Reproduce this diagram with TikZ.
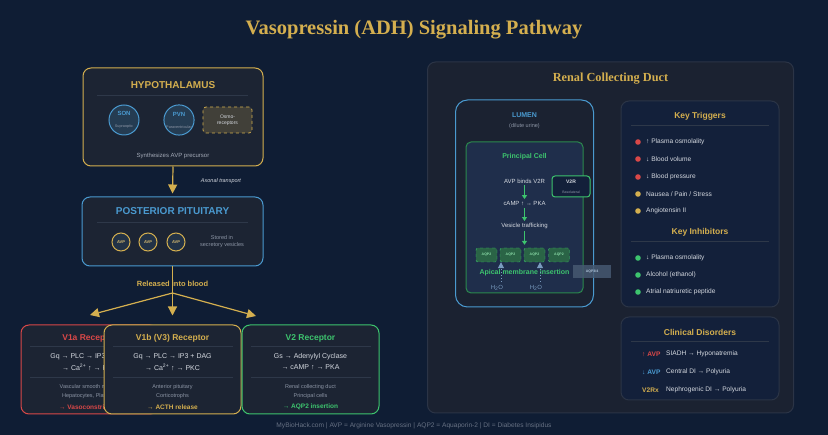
\documentclass[tikz,border=0pt]{standalone}
\usepackage{fontspec}
\setmainfont{Liberation Sans}
\newfontfamily\titleserif{Liberation Serif}
\usetikzlibrary{arrows.meta}
\usetikzlibrary{positioning}

\definecolor{pagebg}{HTML}{0F1D34}
\definecolor{boxbg}{HTML}{1C2433}
\definecolor{gold}{HTML}{D4AF4F}
\definecolor{pitblue}{HTML}{4A9AD0}
\definecolor{alertred}{HTML}{D94848}
\definecolor{okgreen}{HTML}{3DC46E}
\definecolor{textlight}{HTML}{D5D9E0}
\definecolor{textgray}{HTML}{8C95A5}
\definecolor{sepline}{HTML}{2E3849}
\definecolor{navycard}{HTML}{13203A}
\definecolor{cellfill}{HTML}{1F2E4B}
\definecolor{aqpfill}{HTML}{2A6446}
\definecolor{waterblue}{HTML}{7A9CC0}
\definecolor{renalbg}{HTML}{1B2231}
\definecolor{renalline}{HTML}{2B3446}

\tikzstyle{panel} = [rectangle, rounded corners=8pt, fill=boxbg, line width=1pt, inner sep=0pt]
\tikzstyle{headline} = [font=\bfseries\fontsize{10}{12}\selectfont]
\tikzstyle{cardtitle} = [font=\bfseries\fontsize{8.5}{10}\selectfont]
\tikzstyle{body} = [font=\fontsize{7}{8}\selectfont, text=textlight]
\tikzstyle{note} = [font=\fontsize{5.5}{7}\selectfont, text=textgray, align=center]
\tikzstyle{item} = [font=\fontsize{6.6}{8}\selectfont, text=textlight, inner sep=0pt]
\tikzstyle{sep} = [draw=sepline, line width=0.7pt]
\tikzstyle{goldarrow} = [draw=gold, line width=1.2pt, -{Triangle[length=9pt,width=9pt]}]
\tikzstyle{greenarrow} = [draw=okgreen, line width=1pt, -{Triangle[length=4pt,width=5pt]}, shorten <=1pt, shorten >=1pt]
\tikzstyle{waterflow} = [draw=waterblue, dotted, line width=1pt, -{Triangle[length=6pt,width=6pt]}]
\tikzstyle{nucleus} = [circle, draw=pitblue, fill=pitblue!20!boxbg, line width=1pt, minimum size=30pt, inner sep=0pt, align=center]
\tikzstyle{vesicle} = [circle, draw=gold, fill=pitblue!12!boxbg, line width=1pt, minimum size=18pt, inner sep=0pt, font=\bfseries\fontsize{4}{5}\selectfont, text=gold!80!white]
\tikzstyle{aqpbox} = [rectangle, rounded corners=2pt, draw=okgreen, dashed, fill=aqpfill, minimum width=21pt, minimum height=14pt, inner sep=0pt, font=\bfseries\fontsize{3.5}{4}\selectfont, text=okgreen!60!white]
\tikzstyle{receptor} = [panel, minimum width=137pt, minimum height=89pt]

% one receptor card: name, centre x, colour, title, two pathway lines, two sites, effect
\newcommand{\receptorcard}[9]{%
  \node (#1) [receptor, draw=#3] at (#2,369.5) {};
  \node (#1title) [cardtitle, text=#3] at (#2,338) {#4};
  \draw[sep] (#2-60,346) -- (#2+60,346);
  \node (#1pathA) [body] at (#2,357) {#5};
  \node (#1pathB) [body] at (#2,367) {#6};
  \draw[sep] (#2-60,377) -- (#2+60,377);
  \node (#1siteA) [note] at (#2,387) {#7};
  \node (#1siteB) [note] at (#2,396.5) {#8};
  \node (#1effect) [font=\bfseries\fontsize{6.5}{8}\selectfont, text=#3] at (#2,407) {#9};
}

\begin{document}
\begin{tikzpicture}[x=1pt,y=-1pt]
\fill[pagebg] (0,0) rectangle (828,435);
\useasboundingbox (0,0) rectangle (828,435);

\node (title) [font=\titleserif\bfseries\fontsize{20.5}{24}\selectfont, text=gold] at (414,30) {Vasopressin (ADH) Signaling Pathway};

% hypothalamus
\node (hypo) [panel, draw=gold, minimum width=180pt, minimum height=98pt] at (173,117) {};
\node (hypotitle) [headline, text=gold] at (173,85) {HYPOTHALAMUS};
\draw[sep] (97,95) -- (248,95);
\node (son) [nucleus] at (124,120) {{\bfseries\fontsize{6}{7}\selectfont\color{pitblue}SON}\\{\fontsize{3.8}{5}\selectfont\color{textgray}Supraoptic}};
\node (pvn) [nucleus] at (179,120) {{\bfseries\fontsize{6}{7}\selectfont\color{pitblue}PVN}\\{\fontsize{3.8}{5}\selectfont\color{textgray}Paraventricular}};
\node (osmo) [rectangle, rounded corners=3pt, draw=gold, dashed, line width=0.8pt, fill=boxbg!80!gold, minimum width=49pt, minimum height=26pt, align=center, font=\fontsize{5}{6}\selectfont, text=textlight] at (227.5,120) {Osmo-\\receptors};
\node (synth) [font=\fontsize{6}{7}\selectfont, text=textgray!80!white] at (173,156) {Synthesizes AVP precursor};

% posterior pituitary
\node (pit) [panel, draw=pitblue, minimum width=181pt, minimum height=69pt] at (172.5,231.5) {};
\node (pittitle) [headline, text=pitblue] at (172.5,211) {POSTERIOR PITUITARY};
\draw[sep] (97,222) -- (248,222);
\foreach \x [count=\i] in {121,148,176}
  \node (avp\i) [vesicle] at (\x,242) {AVP};
\node (stored) [note] at (222,242) {Stored in\\secretory vesicles};

\draw[goldarrow, shorten >=3pt] (hypo.south) -- (pit.north);
\node (axonal) [font=\itshape\fontsize{5.5}{7}\selectfont, text=textlight] at (221,181) {Axonal transport};

% receptors
\receptorcard{vonea}{89.5}{alertred}{V1a Receptor}{Gq → PLC → IP3 + DAG}{→ Ca\textsuperscript{2+} ↑ → PKC}{Vascular smooth muscle}{Hepatocytes, Platelets}{→ Vasoconstriction}
\receptorcard{voneb}{172.5}{gold}{V1b (V3) Receptor}{Gq → PLC → IP3 + DAG}{→ Ca\textsuperscript{2+} ↑ → PKC}{Anterior pituitary}{Corticotrophs}{→ ACTH release}
\receptorcard{vtwo}{310.5}{okgreen}{V2 Receptor}{Gs → Adenylyl Cyclase}{→ cAMP ↑ → PKA}{Renal collecting duct}{Principal cells}{→ AQP2 insertion}

% release into blood
\coordinate (split) at (172.5,293);
\coordinate (leftend) at (90,315);
\coordinate (rightend) at (256,316);
\draw[goldarrow, shorten >=9pt] (pit.south) -- (voneb.north);
\draw[goldarrow] (split) -- (leftend);
\draw[goldarrow] (split) -- (rightend);
\node (released) [font=\bfseries\fontsize{7.5}{9}\selectfont, text=gold] at (172.5,284) {Released into blood};

% renal collecting duct
\node (renal) [panel, fill=renalbg, draw=renalline, minimum width=366pt, minimum height=351pt] at (610.5,237.5) {};
\node (renaltitle) [font=\titleserif\bfseries\fontsize{12.3}{15}\selectfont, text=gold] at (610.5,79) {Renal Collecting Duct};
\node (lumen) [panel, rounded corners=12pt, fill=renalbg, draw=pitblue, minimum width=138pt, minimum height=207pt] at (524.5,203.5) {};
\node (lumentitle) [font=\bfseries\fontsize{7}{8}\selectfont, text=pitblue] at (524.5,115) {LUMEN};
\node (dilute) [note] at (524.5,126) {(dilute urine)};
\node (cell) [panel, rounded corners=5pt, fill=cellfill, draw=okgreen!70!black, minimum width=117pt, minimum height=151pt] at (524.5,217.5) {};
\node (celltitle) [font=\bfseries\fontsize{7}{8}\selectfont, text=okgreen] at (524.5,156.5) {Principal Cell};
\node (bind) [item, inner sep=1pt, font=\fontsize{6}{7}\selectfont] at (524.5,181) {AVP binds V2R};
\node (camp) [item, inner sep=1pt, font=\fontsize{6}{7}\selectfont] at (524.5,203.5) {cAMP ↑ → PKA};
\node (traffic) [item, inner sep=1pt, font=\fontsize{6}{7}\selectfont] at (524.5,226) {Vesicle trafficking};
\node (vtworec) [rectangle, rounded corners=3pt, draw=okgreen, line width=1pt, fill=navycard, minimum width=38pt, minimum height=21pt] at (571,186.5) {};
\node (vtworeclabel) [font=\bfseries\fontsize{5}{6}\selectfont, text=textlight] at (571,182) {V2R};
\node (baso) [font=\fontsize{3.5}{4}\selectfont, text=textgray] at (571,192) {Basolateral};
\draw[greenarrow] (bind) -- (camp);
\draw[greenarrow] (camp) -- (traffic);
\foreach \x [count=\i] in {486.5,510.5,534.5,559}
  \node (aqp\i) [aqpbox] at (\x,255) {AQP2};
\draw[greenarrow, shorten >=3pt] (traffic) -- (aqp3.north -| traffic);
\node (apical) [font=\bfseries\fontsize{7}{8}\selectfont, text=okgreen] at (524.5,273) {Apical membrane insertion};
\node (aqpbaso) [rectangle, fill=waterblue!45!renalbg, fill opacity=0.85, text opacity=1, minimum width=38pt, minimum height=13pt, inner sep=0pt, font=\bfseries\fontsize{3.5}{4}\selectfont, text=waterblue!60!white] at (592,272) {AQP3/4};
\node (watera) [font=\fontsize{6}{7}\selectfont, text=waterblue] at (497,288) {H\textsubscript{2}O};
\node (waterb) [font=\fontsize{6}{7}\selectfont, text=waterblue] at (536,288) {H\textsubscript{2}O};
\draw[waterflow] ([xshift=4pt]watera.north) -- ([xshift=4pt]watera.north |- aqp1.south);
\draw[waterflow] ([xshift=4pt]waterb.north) -- ([xshift=4pt]waterb.north |- aqp3.south);

% key triggers and inhibitors
\node (keys) [panel, fill=navycard, draw=renalline, minimum width=158pt, minimum height=206pt] at (700,204) {};
\node (trigtitle) [cardtitle, text=gold] at (700,116) {Key Triggers};
\draw[sep] (631,125) -- (769,125);
\foreach \y/\col/\txt [count=\i] in {142/alertred/{↑ Plasma osmolality}, 159/alertred/{↓ Blood volume}, 177/alertred/{↓ Blood pressure}, 194/gold/{Nausea / Pain / Stress}, 211/gold/{Angiotensin II}}{
  \fill[\col] (638,\y) circle (2.8pt);
  \node (trig\i) [item, anchor=west] at (646,\y) {\txt};
}
\node (inhibtitle) [cardtitle, text=gold] at (700,232) {Key Inhibitors};
\draw[sep] (631,241) -- (769,241);
\foreach \y/\txt [count=\i] in {258/{↓ Plasma osmolality}, 275/{Alcohol (ethanol)}, 292/{Atrial natriuretic peptide}}{
  \fill[okgreen] (638,\y) circle (2.8pt);
  \node (inhib\i) [item, anchor=west] at (646,\y) {\txt};
}

% clinical disorders
\node (clinic) [panel, fill=navycard, draw=renalline, minimum width=158pt, minimum height=83pt] at (700,358.5) {};
\node (clinictitle) [cardtitle, text=gold] at (700,332) {Clinical Disorders};
\draw[sep] (631,341) -- (769,341);
\foreach \y/\col/\tag/\txt [count=\i] in {354/alertred/{↑ AVP}/{SIADH → Hyponatremia}, 372/pitblue/{↓ AVP}/{Central DI → Polyuria}, 390/gold/{V2Rx}/{Nephrogenic DI → Polyuria}}{
  \node (tag\i) [item, anchor=west, text=\col, font=\bfseries\fontsize{6.6}{8}\selectfont] at (642,\y) {\tag};
  \node (disorder\i) [item, anchor=west] at (666,\y) {\txt};
}

\node (footer) [font=\fontsize{6.6}{8}\selectfont, text=textgray!70!pagebg] at (414,426) {MyBioHack.com | AVP = Arginine Vasopressin | AQP2 = Aquaporin-2 | DI = Diabetes Insipidus};
\end{tikzpicture}
\end{document}
